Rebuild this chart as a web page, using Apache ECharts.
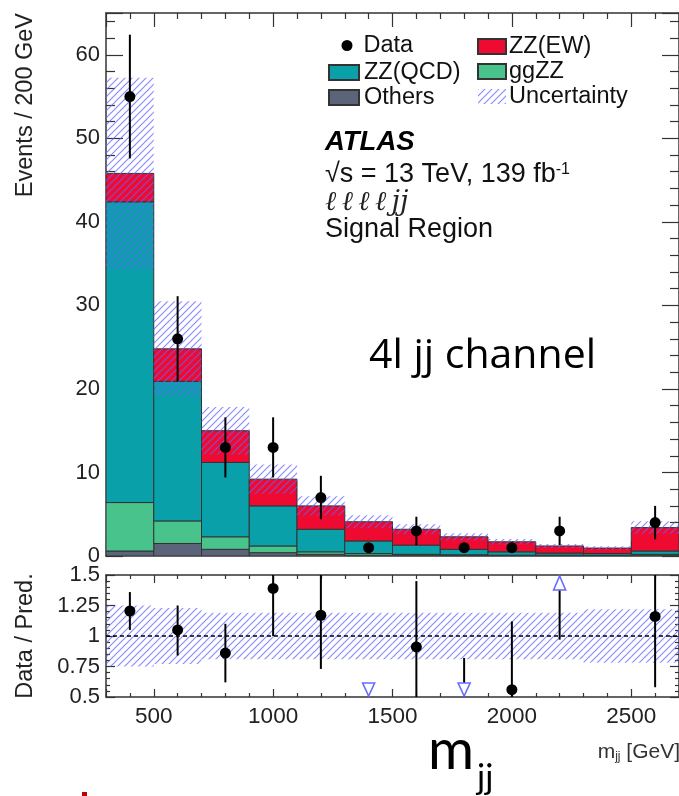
<!DOCTYPE html>
<html><head><meta charset="utf-8">
<script src="https://cdn.jsdelivr.net/npm/echarts@6/dist/echarts.min.js"></script>
<style>html,body{margin:0;padding:0;background:#fff}#c{width:679px;height:796px}</style>
</head><body><div id="c"></div>
<script>
// ---------- data ----------
const binEdges   = [300, 500, 700, 900, 1100, 1300, 1500, 1700, 1900, 2100, 2300, 2500, 2700];
const others     = [0.6, 1.5, 0.8, 0.4, 0.2, 0.1, 0.1, 0.05, 0.05, 0.05, 0.05, 0.1];
const ggZZ       = [5.8, 2.7, 1.5, 0.8, 0.3, 0.2, 0.1, 0.1, 0.05, 0.05, 0.05, 0.1];
const zzQCD      = [36.0, 16.7, 8.9, 4.8, 2.7, 1.5, 1.1, 0.65, 0.4, 0.25, 0.2, 0.4];
const zzEW       = [3.4, 3.9, 3.8, 3.2, 2.8, 2.3, 1.9, 1.5, 1.2, 0.85, 0.65, 2.8];
const relUncert  = [0.25, 0.23, 0.19, 0.19, 0.19, 0.19, 0.19, 0.19, 0.19, 0.19, 0.22, 0.22];
const dataCounts = [55, 26, 13, 13, 7, 1, 3, 1, 1, 3, 0, 4];
const dataErrLow = [47.6, 20.9, 9.4, 9.4, 4.4, null, 1.3, null, null, 1.3, null, 2.0];
const dataErrHigh= [62.4, 31.1, 16.6, 16.6, 9.6, null, 4.7, null, null, 4.7, null, 6.0];
const ratioVal   = [1.205, 1.05, 0.86, 1.39, 1.17, 0.24, 0.91, 0.43, 0.56, 2.5, null, 1.16];
const ratioLow   = [1.05, 0.84, 0.62, 1.00, 0.73, null, 0.30, 0.10, 0.10, 0.97, null, 0.58];
const ratioHigh  = [1.36, 1.25, 1.10, 1.80, 1.80, null, 1.45, 0.82, 1.12, 3.50, null, 1.80];
const ratioRef   = 1;
const yMainTicks = [0, 10, 20, 30, 40, 50, 60];
const yRatioTicks= [0.5, 0.75, 1, 1.25, 1.5];

const FONT = '"Liberation Sans", Arial, Helvetica, sans-serif';
const GEO = 'Lato, "Noto Sans", sans-serif';
const colors = {Others:'#5b6478', ggZZ:'#48c38c', 'ZZ(QCD)':'#0aa0aa', 'ZZ(EW)':'#ee0a30'};

function makeHatch() {
  const c = document.createElement('canvas');
  c.width = 7; c.height = 7;
  const g = c.getContext('2d');
  g.strokeStyle = 'rgba(100,100,255,0.75)';
  g.lineWidth = 1.2;
  g.beginPath();
  g.moveTo(0, 7); g.lineTo(7, 0);
  g.moveTo(-1, 1); g.lineTo(1, -1);
  g.moveTo(6, 8); g.lineTo(8, 6);
  g.stroke();
  return c;
}
const hatchFill = {image: makeHatch(), repeat: 'repeat'};

const nb = binEdges.length - 1;
const centers = [];
for (let i = 0; i < nb; i++) centers.push((binEdges[i] + binEdges[i + 1]) / 2);

function rectItem(params, api, style) {
  const p0 = api.coord([api.value(0), api.value(3)]);
  const p1 = api.coord([api.value(1), api.value(2)]);
  return {type: 'rect', shape: {x: p0[0], y: p0[1], width: p1[0] - p0[0], height: p1[1] - p0[1]}, style: style};
}

const cum = new Array(nb).fill(0);
const stackDefs = [['Others', others], ['ggZZ', ggZZ], ['ZZ(QCD)', zzQCD], ['ZZ(EW)', zzEW]];
const series = [];
stackDefs.forEach(([name, vals]) => {
  const data = vals.map((v, i) => { const b = cum[i]; cum[i] += v; return [binEdges[i], binEdges[i + 1], b, cum[i]]; });
  const col = colors[name];
  series.push({
    name, type: 'custom', xAxisIndex: 0, yAxisIndex: 0, clip: true,
    itemStyle: {color: col, borderColor: '#333', borderWidth: 1},
    encode: {x: [0, 1], y: [2, 3]}, data,
    renderItem: (p, api) => rectItem(p, api, {fill: col, stroke: '#333', lineWidth: 1})
  });
});
const total = cum.slice();

series.push({
  name: 'Uncertainty', type: 'custom', xAxisIndex: 0, yAxisIndex: 0, clip: true,
  itemStyle: {color: hatchFill, borderWidth: 0},
  encode: {x: [0, 1], y: [2, 3]},
  data: total.map((t, i) => [binEdges[i], binEdges[i + 1], t * (1 - relUncert[i]), t * (1 + relUncert[i])]),
  renderItem: (p, api) => rectItem(p, api, {fill: hatchFill})
});

series.push({
  name: 'Data', type: 'custom', xAxisIndex: 0, yAxisIndex: 0, clip: true, z: 5,
  itemStyle: {color: '#000'},
  encode: {x: 0, y: 1},
  data: dataCounts.map((v, i) => [centers[i], v, dataErrLow[i], dataErrHigh[i]]),
  renderItem: (p, api) => {
    const v = api.value(1);
    if (!(v > 0)) return null;
    const c = api.coord([api.value(0), v]);
    const ch = [];
    const lo = api.value(2), hi = api.value(3);
    if (!isNaN(lo) && lo !== null && !isNaN(hi)) {
      const a = api.coord([api.value(0), lo]), b = api.coord([api.value(0), hi]);
      ch.push({type: 'line', shape: {x1: a[0], y1: a[1], x2: b[0], y2: b[1]}, style: {stroke: '#000', lineWidth: 2}});
    }
    ch.push({type: 'circle', shape: {cx: c[0], cy: c[1], r: 5.5}, style: {fill: '#000'}});
    return {type: 'group', children: ch};
  }
});

// ratio panel
series.push({
  name: 'ratioBand', type: 'custom', xAxisIndex: 2, yAxisIndex: 2, clip: true,
  encode: {x: [0, 1], y: [2, 3]},
  data: relUncert.map((r, i) => [binEdges[i], binEdges[i + 1], ratioRef - r, ratioRef + r]),
  renderItem: (p, api) => rectItem(p, api, {fill: hatchFill}),
  markLine: {silent: true, symbol: 'none', label: {show: false},
    lineStyle: {color: '#000', type: [4, 3], width: 1.5},
    data: [{yAxis: ratioRef}]}
});

series.push({
  name: 'ratio', type: 'custom', xAxisIndex: 2, yAxisIndex: 2, clip: true, z: 5,
  encode: {x: 0, y: 1},
  data: ratioVal.map((v, i) => [centers[i], v, ratioLow[i], ratioHigh[i]]),
  renderItem: (p, api) => {
    const x = api.value(0), v = api.value(1), lo = api.value(2), hi = api.value(3);
    if (isNaN(v) || v === null) return null;
    const ch = [];
    const triStyle = {stroke: '#6b6bff', fill: '#fff', lineWidth: 1.6};
    if (v < 0.5) {
      const t = api.coord([x, 0.5]);
      const baseY = t[1] - 14;
      if (!isNaN(hi) && hi > 0.5) {
        const b = api.coord([x, hi]);
        ch.push({type: 'line', shape: {x1: t[0], y1: b[1], x2: t[0], y2: baseY}, style: {stroke: '#000', lineWidth: 2}});
      }
      ch.push({type: 'polygon', shape: {points: [[t[0] - 6, baseY], [t[0] + 6, baseY], [t[0], t[1] - 1]]}, style: triStyle});
    } else if (v > 1.5) {
      const t = api.coord([x, 1.5]);
      const baseY = t[1] + 15;
      if (!isNaN(lo) && lo < 1.5) {
        const a = api.coord([x, lo]);
        ch.push({type: 'line', shape: {x1: t[0], y1: a[1], x2: t[0], y2: baseY}, style: {stroke: '#000', lineWidth: 2}});
      }
      ch.push({type: 'polygon', shape: {points: [[t[0] - 6, baseY], [t[0] + 6, baseY], [t[0], t[1] + 1]]}, style: triStyle});
    } else {
      const c = api.coord([x, v]);
      const a = api.coord([x, lo]), b = api.coord([x, hi]);
      ch.push({type: 'line', shape: {x1: c[0], y1: a[1], x2: c[0], y2: b[1]}, style: {stroke: '#000', lineWidth: 2}});
      ch.push({type: 'circle', shape: {cx: c[0], cy: c[1], r: 5.5}, style: {fill: '#000'}});
    }
    return {type: 'group', children: ch};
  }
});

const lineSt = {color: '#333', width: 1.5};
function xAx(grid, pos, showLabel, tickLen, minorLen) {
  return {
    type: 'value', gridIndex: grid, position: pos, min: binEdges[0], max: binEdges[nb], splitNumber: 5,
    axisLine: {show: true, onZero: false, lineStyle: lineSt},
    axisTick: {show: true, inside: true, length: tickLen, lineStyle: {color: '#333', width: 1.2}},
    minorTick: {show: true, splitNumber: 5, length: minorLen, lineStyle: {color: '#333', width: 1.2}},
    splitLine: {show: false},
    axisLabel: {show: showLabel, fontSize: 22.5, fontFamily: FONT, color: '#222', margin: 8,
      showMinLabel: false, showMaxLabel: false, formatter: v => String(v)}
  };
}
function yAx(grid, pos, showLabel, ticks, max, tickLen, minorLen) {
  return {
    type: 'value', gridIndex: grid, position: pos, min: ticks[0], max: max, interval: ticks[1] - ticks[0],
    axisLine: {show: true, onZero: false, lineStyle: lineSt},
    axisTick: {show: true, inside: true, length: tickLen, lineStyle: {color: '#333', width: 1.2}},
    minorTick: {show: true, splitNumber: 5, length: minorLen, lineStyle: {color: '#333', width: 1.2}},
    splitLine: {show: false},
    axisLabel: {show: showLabel, fontSize: 22, fontFamily: FONT, color: '#222', margin: 6,
      showMaxLabel: max === ticks[ticks.length - 1],
      formatter: v => String(v)}
  };
}

const legendText = {fontSize: 23.5, fontFamily: FONT, color: '#111', lineHeight: 25};
const option = {
  animation: false,
  backgroundColor: '#fff',
  grid: [
    {left: 106, top: 13, width: 574, height: 543},
    {left: 106, top: 575, width: 574, height: 122}
  ],
  xAxis: [xAx(0, 'bottom', false, 15, 7), xAx(0, 'top', false, 14, 6), xAx(1, 'bottom', true, 8, 4), xAx(1, 'top', false, 8, 4)],
  yAxis: [yAx(0, 'left', true, yMainTicks, 65, 17, 9), yAx(0, 'right', false, yMainTicks, 65, 17, 9),
          yAx(1, 'left', true, yRatioTicks, 1.5, 9, 4), yAx(1, 'right', false, yRatioTicks, 1.5, 9, 4)],
  legend: [
    {data: [{name: 'Data', icon: 'circle'}], left: 341.5, top: 33, orient: 'vertical', padding: 0,
     itemWidth: 11, itemHeight: 11, selectedMode: false, textStyle: Object.assign({padding: [0, 0, 0, 6]}, legendText)},
    {data: [{name: 'ZZ(QCD)', icon: 'rect'}, {name: 'Others', icon: 'rect'}], left: 328, top: 60, orient: 'vertical', padding: 0,
     itemWidth: 30, itemHeight: 15, itemGap: 0, selectedMode: false, textStyle: legendText},
    {data: [{name: 'ZZ(EW)', icon: 'rect'}, {name: 'ggZZ', icon: 'rect'}, {name: 'Uncertainty', icon: 'rect'}], left: 477, top: 34, orient: 'vertical', padding: 0,
     itemWidth: 28, itemHeight: 15, itemGap: 0, selectedMode: false, textStyle: Object.assign({padding: [0, 0, 0, -2]}, legendText)}
  ],
  graphic: [
    {type: 'text', x: 26, y: 13, rotation: Math.PI / 2,
     style: {text: 'Events / 200 GeV', font: '23.5px ' + FONT, fill: '#222', align: 'right', verticalAlign: 'middle'}},
    {type: 'text', x: 26, y: 636, rotation: Math.PI / 2,
     style: {text: 'Data / Pred.', font: '23.5px ' + FONT, fill: '#222', align: 'center', verticalAlign: 'middle'}},
    {type: 'text', x: 325, y: 142,
     style: {text: 'ATLAS', font: 'italic bold 27.5px ' + FONT, fill: '#000', verticalAlign: 'middle'}},
    {type: 'text', x: 325, y: 175,
     style: {text: '√s = 13 TeV, 139 fb{sup|-1}', font: '27px ' + FONT, fill: '#111', verticalAlign: 'middle',
       rich: {sup: {fontSize: 16, fontFamily: FONT, fill: '#111', verticalAlign: 'top'}}}},
    {type: 'text', x: 325, y: 203,
     style: {text: 'ℓ\u2009ℓ\u2009ℓ\u2009ℓ\u2009jj', font: 'italic 27px "DejaVu Serif", serif', fill: '#222', verticalAlign: 'middle'}},
    {type: 'text', x: 325, y: 230,
     style: {text: 'Signal Region', font: '27px ' + FONT, fill: '#111', verticalAlign: 'middle'}},
    {type: 'text', x: 369, y: 356,
     style: {text: '4l jj channel', font: '41px "Open Sans", ' + GEO, fill: '#000', verticalAlign: 'middle'}},
    {type: 'text', x: 428, y: 751,
     style: {text: 'm', font: '56px ' + GEO, fill: '#000', verticalAlign: 'middle'}},
    {type: 'text', x: 477, y: 778,
     style: {text: 'jj', font: '34px ' + GEO, fill: '#000', verticalAlign: 'middle'}},
    {type: 'text', x: 680, y: 752,
     style: {text: 'm{sub|jj} [GeV]', font: '21px ' + FONT, fill: '#333', align: 'right', verticalAlign: 'middle',
       rich: {sub: {fontSize: 12, fontFamily: FONT, fill: '#333', verticalAlign: 'bottom'}}}},
    {type: 'rect', shape: {x: 82, y: 792, width: 5, height: 4}, style: {fill: '#c00000'}}
  ],
  series
};
const chart = echarts.init(document.getElementById('c'), null, {renderer: 'canvas'});
chart.setOption(option);
</script>
</body></html>
